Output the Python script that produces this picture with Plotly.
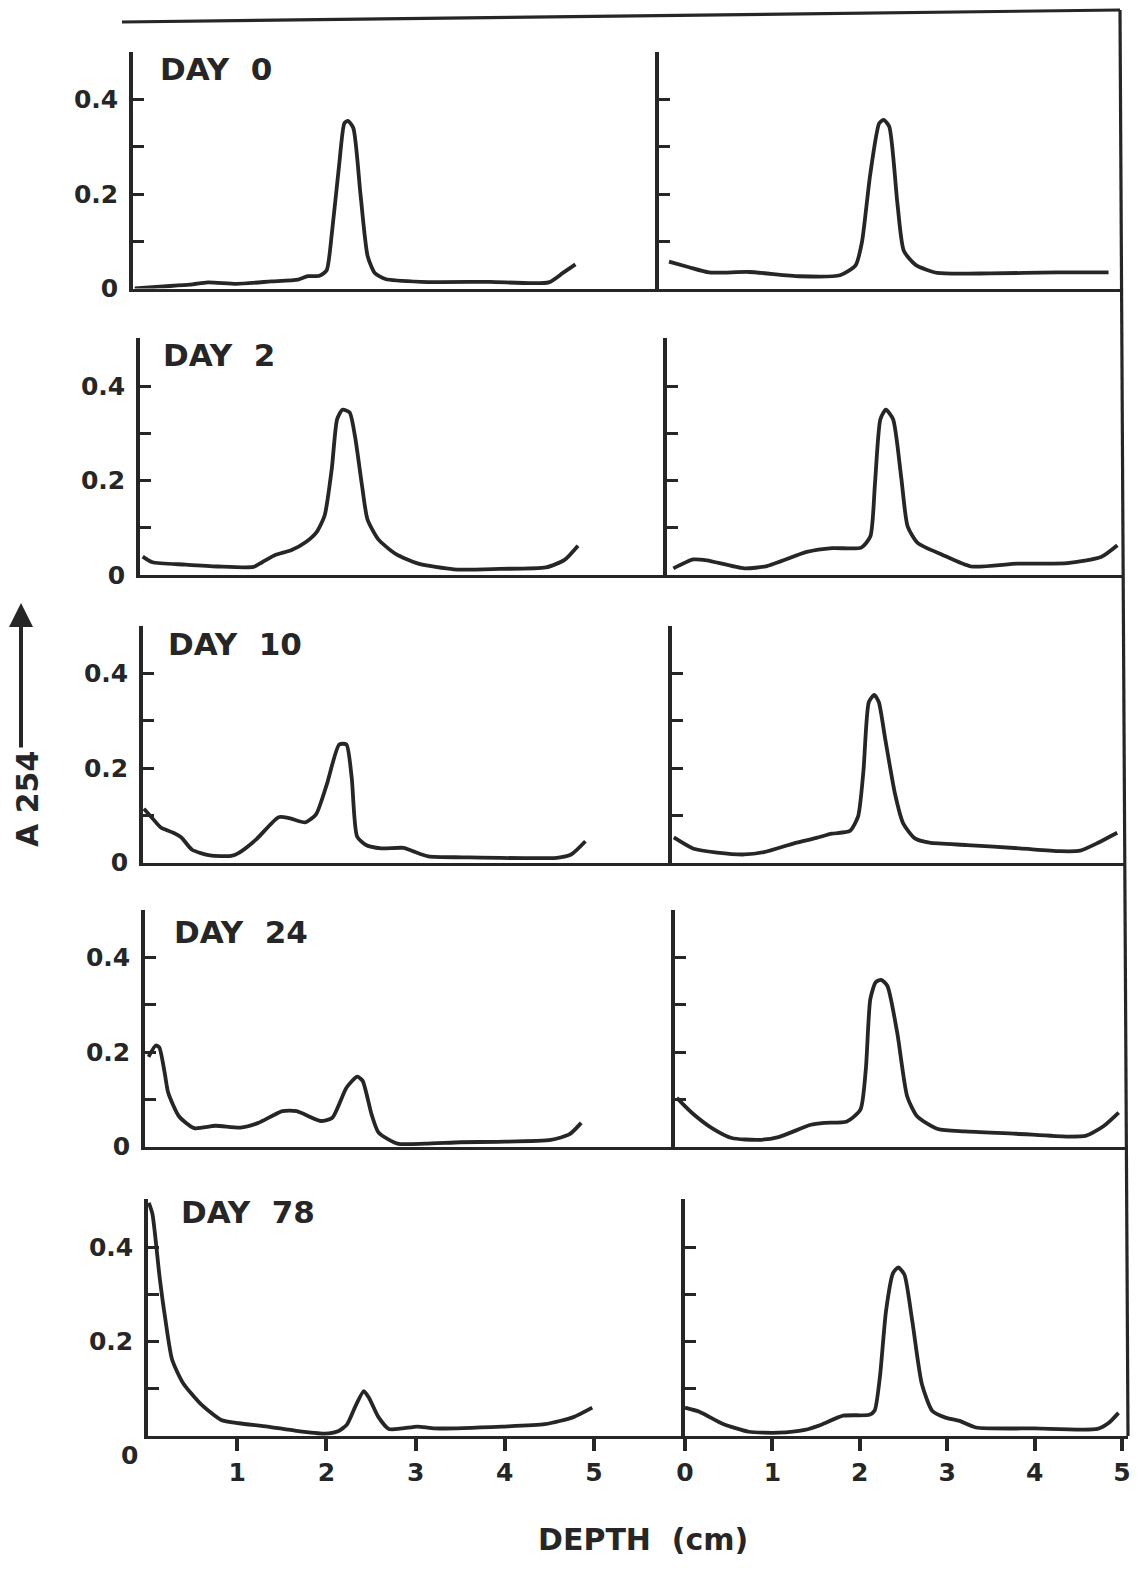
import plotly.graph_objects as go

# The page keeps the browser's default 8px body margin; keep the figure small
# enough that the page never overflows the 1139x1580 window.
W, H = 1123, 1550
OFF_X, OFF_Y = 8, 8
INK = "#262626"
FONT = "DejaVu Sans"

# ---------------- data (depth in cm, A254) ----------------
day_labels = ["DAY\u00a0\u00a00", "DAY\u00a0\u00a02", "DAY\u00a0\u00a010", "DAY\u00a0\u00a024", "DAY\u00a0\u00a078"]

l1_x = [0.02, 0.3, 0.64, 0.84, 1.16, 1.55, 1.85, 1.96, 2.09, 2.17, 2.23, 2.31, 2.37, 2.41, 2.47, 2.55, 2.63, 2.71, 2.83, 3.23, 4.0, 4.66, 4.82, 4.96]
l1_y = [0.0, 0.004, 0.008, 0.013, 0.01, 0.015, 0.019, 0.026, 0.027, 0.038, 0.118, 0.26, 0.35, 0.355, 0.34, 0.2, 0.069, 0.033, 0.02, 0.014, 0.014, 0.013, 0.033, 0.051]

r1_x = [0.11, 0.33, 0.55, 0.99, 1.54, 1.99, 2.16, 2.23, 2.32, 2.42, 2.47, 2.53, 2.62, 2.69, 2.82, 3.06, 3.64, 4.38, 4.94]
r1_y = [0.057, 0.045, 0.034, 0.035, 0.026, 0.028, 0.049, 0.098, 0.24, 0.35, 0.357, 0.343, 0.18, 0.08, 0.05, 0.033, 0.032, 0.034, 0.034]

l2_x = [0.03, 0.14, 0.51, 0.87, 1.27, 1.37, 1.51, 1.70, 1.86, 1.98, 2.07, 2.15, 2.21, 2.27, 2.35, 2.41, 2.49, 2.55, 2.67, 2.87, 3.12, 3.52, 4.03, 4.55, 4.76, 4.91]
l2_y = [0.039, 0.027, 0.022, 0.018, 0.017, 0.027, 0.042, 0.053, 0.07, 0.091, 0.126, 0.225, 0.33, 0.35, 0.344, 0.294, 0.188, 0.118, 0.076, 0.044, 0.024, 0.012, 0.013, 0.016, 0.032, 0.062]

r2_x = [0.07, 0.29, 0.44, 0.85, 1.10, 1.54, 1.82, 2.14, 2.24, 2.29, 2.35, 2.41, 2.49, 2.58, 2.65, 2.76, 3.03, 3.35, 3.86, 4.41, 4.78, 4.96]
r2_y = [0.014, 0.033, 0.031, 0.014, 0.019, 0.049, 0.057, 0.058, 0.082, 0.192, 0.33, 0.35, 0.33, 0.206, 0.103, 0.068, 0.043, 0.018, 0.024, 0.025, 0.038, 0.063]

l3_x = [0.01, 0.1, 0.2, 0.34, 0.43, 0.55, 0.75, 0.99, 1.07, 1.27, 1.52, 1.64, 1.82, 1.94, 2.06, 2.20, 2.28, 2.34, 2.40, 2.50, 2.67, 2.92, 3.04, 3.20, 3.58, 4.64, 4.8, 4.96]
l3_y = [0.114, 0.095, 0.074, 0.063, 0.053, 0.027, 0.015, 0.014, 0.02, 0.049, 0.096, 0.094, 0.085, 0.102, 0.165, 0.25, 0.25, 0.179, 0.055, 0.037, 0.03, 0.031, 0.023, 0.013, 0.011, 0.01, 0.017, 0.045]

r3_x = [0.02, 0.24, 0.5, 0.8, 1.02, 1.36, 1.60, 1.77, 1.97, 2.06, 2.12, 2.18, 2.24, 2.29, 2.36, 2.47, 2.56, 2.69, 2.85, 3.27, 3.85, 4.29, 4.52, 4.7, 4.93]
r3_y = [0.053, 0.029, 0.021, 0.017, 0.022, 0.041, 0.052, 0.061, 0.067, 0.097, 0.194, 0.34, 0.355, 0.34, 0.263, 0.145, 0.083, 0.051, 0.042, 0.037, 0.030, 0.024, 0.025, 0.04, 0.063]

l4_x = [0.04, 0.12, 0.16, 0.22, 0.26, 0.38, 0.55, 0.79, 1.07, 1.27, 1.54, 1.70, 1.97, 2.10, 2.26, 2.38, 2.44, 2.54, 2.62, 2.83, 3.14, 3.54, 3.95, 4.55, 4.76, 4.89]
l4_y = [0.19, 0.214, 0.21, 0.157, 0.114, 0.064, 0.039, 0.044, 0.04, 0.05, 0.075, 0.075, 0.054, 0.061, 0.125, 0.148, 0.139, 0.068, 0.029, 0.006, 0.006, 0.009, 0.01, 0.014, 0.026, 0.05]

r4_x = [0.02, 0.19, 0.41, 0.63, 0.93, 1.15, 1.51, 1.66, 1.91, 2.06, 2.12, 2.17, 2.23, 2.29, 2.36, 2.47, 2.58, 2.69, 2.92, 3.22, 3.79, 4.35, 4.57, 4.76, 4.93]
r4_y = [0.103, 0.071, 0.039, 0.018, 0.014, 0.02, 0.046, 0.05, 0.053, 0.078, 0.163, 0.312, 0.348, 0.353, 0.34, 0.24, 0.106, 0.064, 0.037, 0.032, 0.027, 0.021, 0.023, 0.043, 0.072]

l5_x = [0.01, 0.05, 0.13, 0.19, 0.27, 0.39, 0.59, 0.82, 1.02, 1.34, 1.66, 1.98, 2.13, 2.23, 2.33, 2.42, 2.48, 2.58, 2.70, 2.85, 3.02, 3.22, 3.97, 4.45, 4.77, 4.98]
l5_y = [0.494, 0.47, 0.337, 0.253, 0.162, 0.113, 0.068, 0.034, 0.027, 0.02, 0.011, 0.005, 0.01, 0.024, 0.065, 0.095, 0.08, 0.041, 0.015, 0.016, 0.02, 0.016, 0.02, 0.025, 0.04, 0.06]

r5_x = [0, 0.17, 0.43, 0.73, 1.07, 1.37, 1.56, 1.81, 2.11, 2.17, 2.23, 2.30, 2.38, 2.44, 2.51, 2.60, 2.71, 2.83, 2.98, 3.14, 3.33, 4.0, 4.72, 4.85, 4.96]
r5_y = [0.06, 0.051, 0.026, 0.009, 0.007, 0.013, 0.024, 0.043, 0.045, 0.054, 0.125, 0.265, 0.345, 0.357, 0.342, 0.244, 0.11, 0.053, 0.039, 0.032, 0.018, 0.016, 0.015, 0.028, 0.049]

left_series = [(l1_x, l1_y), (l2_x, l2_y), (l3_x, l3_y), (l4_x, l4_y), (l5_x, l5_y)]
right_series = [(r1_x, r1_y), (r2_x, r2_y), (r3_x, r3_y), (r4_x, r4_y), (r5_x, r5_y)]

y_tickvals = [0, 0.1, 0.2, 0.3, 0.4, 0.5]
y_ticktext = ["0", "", "0.2", "", "0.4", ""]
x_tickvals_left = [1, 2, 3, 4, 5]
x_tickvals_right = [0, 1, 2, 3, 4, 5]

# ---------------- geometry (target page pixels) ----------------
row_zero_px = [288.5, 575, 862.5, 1146.5, 1436]
panel_h_px = 237
left_axis_px = [133, 140, 143, 145, 148]
right_axis_px = [659, 667, 672, 675, 685]
border_px = [1120, 1122, 1124, 1126, 1128]
left_scale = 89.2
right_scale = [91.0, 90.8, 90.3, 90.0, 87.4]
day_pos_px = [(158, 69), (161, 355), (166, 644), (172, 932), (179, 1212)]


def fx(p):
    return (p - OFF_X) / W


def fy(p):
    return 1 - (p - OFF_Y) / H


fig = go.Figure()
layout = dict(
    width=W, height=H, margin=dict(l=0, r=0, t=0, b=0, autoexpand=False),
    paper_bgcolor="white", plot_bgcolor="white", showlegend=False,
    font=dict(family=FONT, color=INK),
)

annotations = []
n = 0
for r in range(5):
    for c in range(2):
        n += 1
        xs, ys = (left_series if c == 0 else right_series)[r]
        xname = "x" if n == 1 else f"x{n}"
        yname = "y" if n == 1 else f"y{n}"
        fig.add_trace(go.Scatter(
            x=xs, y=ys, mode="lines", xaxis=xname, yaxis=yname,
            line=dict(color=INK, width=3.8, shape="spline", smoothing=0.6),
            hoverinfo="skip",
        ))
        if c == 0:
            a, b, sc = left_axis_px[r], right_axis_px[r], left_scale
        else:
            a, b, sc = right_axis_px[r], border_px[r], right_scale[r]
        bottom = (r == 4)
        xa = dict(
            domain=[fx(a), fx(b)], range=[0, (b - a) / sc],
            showline=True, linewidth=3.2, linecolor=INK,
            showgrid=False, zeroline=False, anchor=yname,
            fixedrange=True, automargin=False,
        )
        if bottom:
            vals = x_tickvals_left if c == 0 else x_tickvals_right
            xa.update(
                ticks="outside", ticklen=12, tickwidth=3.5, tickcolor=INK,
                tickvals=vals, ticktext=[str(v) for v in vals],
                tickfont=dict(family=FONT, size=25, color=INK, weight="bold"),
                showticklabels=True, ticklabeloverflow="allow",
            )
        else:
            xa.update(ticks="", showticklabels=False)
        z = row_zero_px[r]
        ytext = list(y_ticktext)
        if bottom:
            ytext[0] = ""
        ya = dict(
            domain=[fy(z), fy(z - panel_h_px)], range=[0, 0.502],
            showline=True, linewidth=3.5, linecolor=INK,
            showgrid=False, zeroline=False, anchor=xname,
            ticks="inside", ticklen=11, tickwidth=3, tickcolor=INK,
            tickvals=y_tickvals, ticktext=ytext,
            showticklabels=(c == 0), ticklabelstandoff=6,
            tickfont=dict(family=FONT, size=25, color=INK, weight="bold"),
            fixedrange=True, automargin=False,
        )
        layout["xaxis" if n == 1 else f"xaxis{n}"] = xa
        layout["yaxis" if n == 1 else f"yaxis{n}"] = ya

# day labels
for (px, py), txt in zip(day_pos_px, day_labels):
    annotations.append(dict(
        x=fx(px), y=fy(py), xref="paper", yref="paper", text=txt,
        showarrow=False, xanchor="left", yanchor="middle",
        font=dict(family=FONT, size=31, color=INK, weight="bold"),
    ))

# shared origin label of the bottom-left panel
annotations.append(dict(
    x=fx(129), y=fy(1455), xref="paper", yref="paper", text="0",
    showarrow=False, xanchor="center", yanchor="middle",
    font=dict(family=FONT, size=25, color=INK, weight="bold"),
))

# y-axis title with arrow
annotations.append(dict(
    x=fx(27), y=fy(799), xref="paper", yref="paper", text="A\u00a0254",
    showarrow=False, textangle=-90, xanchor="center", yanchor="middle",
    font=dict(family=FONT, size=30, color=INK, weight="bold"),
))
annotations.append(dict(
    x=fx(21), y=fy(603), xref="paper", yref="paper", text="",
    showarrow=True, ax=0, ay=146, arrowhead=2, arrowsize=1.2, arrowwidth=4,
    arrowcolor=INK, standoff=0,
))

# x-axis title (as low as the page allows)
annotations.append(dict(
    x=fx(643), y=0, xref="paper", yref="paper", text="DEPTH\u00a0\u00a0(cm)",
    showarrow=False, xanchor="center", yanchor="bottom", borderpad=0,
    font=dict(family=FONT, size=30, color=INK, weight="bold"),
))

shapes = [
    dict(type="line", xref="paper", yref="paper", x0=fx(122), y0=fy(22), x1=fx(1120), y1=fy(10),
         line=dict(color=INK, width=3.2)),
    dict(type="line", xref="paper", yref="paper", x0=fx(1120), y0=fy(10), x1=fx(1128), y1=fy(1436),
         line=dict(color=INK, width=3.2)),
]

layout["annotations"] = annotations
layout["shapes"] = shapes
fig.update_layout(**layout)

fig.write_html("out.html", config={"displayModeBar": False})
